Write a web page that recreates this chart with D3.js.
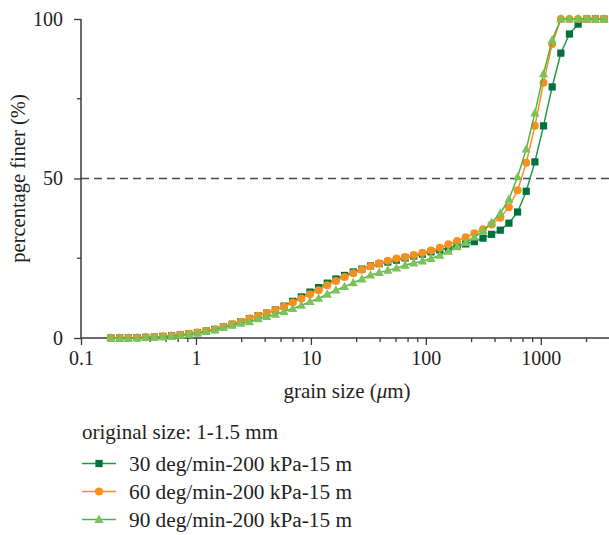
<!DOCTYPE html>
<html>
<head>
<meta charset="utf-8">
<script src="https://cdn.jsdelivr.net/npm/d3@7"></script>
<style>
    body { margin: 0; background: #fff; }
    text { font-family: 'Liberation Serif', 'Times New Roman', serif; fill: #231f20; }
</style>
</head>
<body>
<svg id="chart" width="609" height="535"></svg>
<script>
// grain size bins (um)
const grainSize = [
    0.182, 0.217, 0.258, 0.307, 0.365, 0.434, 0.516, 0.614, 0.730, 0.868,
    1.032, 1.227, 1.459, 1.735, 2.064, 2.454, 2.918, 3.470, 4.127, 4.908,
    5.837, 6.941, 8.254, 9.816, 11.67, 13.88, 16.51, 19.63, 23.35, 27.76,
    33.02, 39.26, 46.69, 55.53, 66.03, 78.52, 93.38, 111.0, 132.1, 157.0,
    186.8, 222.1, 264.1, 314.1, 373.5, 444.2, 528.2, 628.2, 747.0, 888.4,
    1056, 1256, 1494, 1776, 2112, 2512, 2987, 3552
];

const finer30 = [
    0, 0, 0.05, 0.1, 0.2, 0.3, 0.5, 0.7, 1.0, 1.3,
    1.7, 2.2, 2.7, 3.5, 4.3, 5.1, 6.1, 7.0, 7.8, 8.8,
    10.0, 11.5, 12.9, 14.4, 15.8, 17.2, 18.5, 19.6, 20.7, 21.6,
    22.6, 23.3, 23.8, 24.4, 25.1, 25.7, 26.3, 27.0, 27.6, 28.2,
    28.9, 29.5, 30.2, 31.3, 32.5, 33.8, 36.0, 39.5, 46.0, 55.2,
    66.5, 78.7, 89.3, 95.3, 98.4, 100, 100, 100
];

const finer60 = [
    0, 0, 0.05, 0.1, 0.2, 0.3, 0.5, 0.7, 1.0, 1.3,
    1.7, 2.2, 2.7, 3.5, 4.3, 5.1, 6.1, 7.0, 7.8, 8.8,
    9.8, 11.1, 12.4, 13.7, 15.0, 16.5, 17.9, 19.1, 20.3, 21.4,
    22.5, 23.4, 24.2, 24.9, 25.4, 26.0, 26.7, 27.4, 28.3, 29.4,
    30.4, 31.6, 32.8, 34.1, 35.6, 37.7, 41.0, 46.3, 54.9, 66.5,
    80.0, 92.2, 100, 100, 100, 100, 100, 100
];

const finer90 = [
    0, 0, 0, 0.05, 0.1, 0.2, 0.35, 0.55, 0.8, 1.1,
    1.5, 2.0, 2.5, 3.3, 4.0, 4.6, 5.1, 6.0, 6.7, 7.4,
    8.3, 9.2, 10.2, 11.4, 12.4, 13.7, 15.0, 16.1, 17.3, 18.5,
    19.7, 20.5, 21.2, 21.9, 22.8, 23.5, 24.1, 24.9, 25.9, 27.2,
    28.6, 29.9, 31.6, 33.6, 36.1, 39.1, 43.5, 50.5, 59.2, 70.5,
    82.8, 93.4, 100, 100, 100, 100, 100, 100
];

const seriesNames = ['30 deg/min-200 kPa-15 m', '60 deg/min-200 kPa-15 m', '90 deg/min-200 kPa-15 m'];
const legendTitle = 'original size: 1-1.5 mm';

const xMajorTicks = [0.1, 1, 10, 100, 1000];
const xMinorSteps = [2.5, 4, 5.5, 7, 8.5]; // Origin style linear minors in each decade
const yMajorTicks = [0, 50, 100];
const yMinorTicks = [25, 75];

const series = [
    { name: seriesNames[0], values: finer30, line: '#1f9a48', fill: '#00703c', shape: 'square' },
    { name: seriesNames[1], values: finer60, line: '#f7901e', fill: '#f7901e', shape: 'circle' },
    { name: seriesNames[2], values: finer90, line: '#4db34a', fill: '#7cc25a', shape: 'triangle' }
];

const svg = d3.select('#chart');
const axisColor = '#3a3a3a';

const x = d3.scaleLog().domain([0.1, 4000]).range([81, 610]);
const y = d3.scaleLinear().domain([0, 100]).range([338, 19]);

// dashed reference at 50 %
svg.append('line')
    .attr('x1', x(0.1)).attr('x2', 609)
    .attr('y1', y(50)).attr('y2', y(50))
    .attr('stroke', '#4a4a4a')
    .attr('stroke-width', 1.3)
    .attr('stroke-dasharray', '8,5');

// axes
const xMinor = [];
xMajorTicks.forEach(d => xMinorSteps.forEach(s => { if (d * s < 4000) xMinor.push(d * s); }));

const xAxis = svg.append('g').attr('transform', `translate(0,${y(0)})`);
xAxis.call(d3.axisBottom(x).tickValues(xMajorTicks).tickFormat(d3.format('~g')).tickSize(7).tickPadding(6))
    .call(g => g.select('.domain').remove());
xAxis.selectAll('.tick line').attr('stroke', axisColor).attr('stroke-width', 1.3);
xAxis.selectAll('.tick text').attr('font-size', 20).attr('font-family', "'Liberation Serif', serif").attr('fill', '#231f20');
xAxis.selectAll('line.minor')
    .data(xMinor)
    .enter()
    .append('line')
    .classed('minor', true)
    .attr('x1', d => x(d)).attr('x2', d => x(d))
    .attr('y1', 0).attr('y2', 4)
    .attr('stroke', axisColor).attr('stroke-width', 1.3);
xAxis.append('line')
    .attr('x1', x(0.1)).attr('x2', 609)
    .attr('stroke', axisColor).attr('stroke-width', 1.5);

const yAxis = svg.append('g').attr('transform', `translate(${x(0.1)},0)`);
yAxis.call(d3.axisLeft(y).tickValues(yMajorTicks).tickSize(7).tickPadding(11))
    .call(g => g.select('.domain').remove());
yAxis.selectAll('.tick line').attr('stroke', axisColor).attr('stroke-width', 1.3);
yAxis.selectAll('.tick text').attr('font-size', 20).attr('font-family', "'Liberation Serif', serif").attr('fill', '#231f20');
yAxis.selectAll('line.minor')
    .data(yMinorTicks)
    .enter()
    .append('line')
    .classed('minor', true)
    .attr('y1', d => y(d)).attr('y2', d => y(d))
    .attr('x1', 0).attr('x2', -4)
    .attr('stroke', axisColor).attr('stroke-width', 1.3);
yAxis.append('line')
    .attr('y1', y(0)).attr('y2', y(100))
    .attr('stroke', axisColor).attr('stroke-width', 1.5);

// axis titles
svg.append('text')
    .attr('x', 347).attr('y', 398)
    .attr('text-anchor', 'middle')
    .attr('font-size', 21)
    .html('grain size (<tspan font-style="italic">μ</tspan>m)');

svg.append('text')
    .attr('transform', `translate(25,${y(50)}) rotate(-90)`)
    .attr('text-anchor', 'middle')
    .attr('font-size', 20.5)
    .text('percentage finer (%)');

// marker helper
function drawMarker(sel, shape, color, cx, cy) {
    if (shape === 'square')
        sel.append('rect')
            .attr('x', cx - 3.6).attr('y', cy - 3.6)
            .attr('width', 7.2).attr('height', 7.2)
            .attr('fill', color);
    else if (shape === 'circle')
        sel.append('circle')
            .attr('cx', cx).attr('cy', cy).attr('r', 4)
            .attr('fill', color);
    else
        sel.append('path')
            .attr('d', `M${cx},${cy - 5}L${cx + 4.6},${cy + 3.4}L${cx - 4.6},${cy + 3.4}Z`)
            .attr('fill', color);
}

// curves
const line = d3.line()
    .x(d => x(d[0]))
    .y(d => y(d[1]));

series.forEach(s => {
    const pts = grainSize.map((g, i) => [g, s.values[i]]);
    const g = svg.append('g');
    g.append('path')
        .attr('d', line(pts))
        .attr('fill', 'none')
        .attr('stroke', s.line)
        .attr('stroke-width', 1.5);
    pts.forEach(p => drawMarker(g, s.shape, s.fill, x(p[0]), y(p[1])));
});

// legend
const legend = svg.append('g');
legend.append('text')
    .attr('x', 82).attr('y', 439)
    .attr('font-size', 21)
    .text(legendTitle);

series.forEach((s, i) => {
    const ly = 463.5 + i * 28;
    const row = legend.append('g');
    row.append('line')
        .attr('x1', 82).attr('x2', 116)
        .attr('y1', ly).attr('y2', ly)
        .attr('stroke', s.line)
        .attr('stroke-width', 1.5);
    drawMarker(row, s.shape, s.fill, 99, ly);
    row.append('text')
        .attr('x', 129).attr('y', ly + 7)
        .attr('font-size', 21.3)
        .text(s.name);
});
</script>
</body>
</html>
